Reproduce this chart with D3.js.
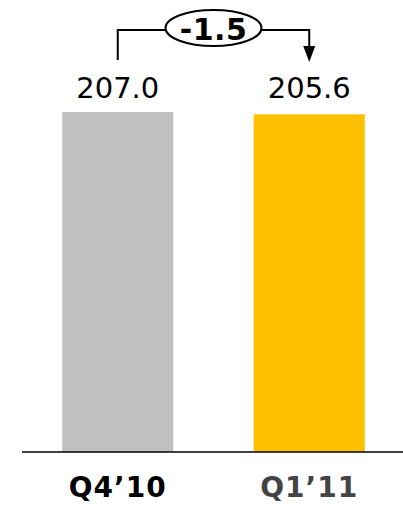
<!DOCTYPE html>
<html>
<head>
<meta charset="utf-8">
<script src="https://cdn.jsdelivr.net/npm/d3@7"></script>
<style>
  html, body { margin: 0; padding: 0; background: #fff; }
  svg { display: block; }
</style>
</head>
<body>
<svg id="chart" width="403" height="508"></svg>
<script>
// Quarterly values
const categories = ["Q4\u201910", "Q1\u201911"];
const values = [207.0, 205.6];
const valueLabels = ["207.0", "205.6"];
const barColors = ["#C0C0C0", "#FFC000"];
const categoryColors = ["#000000", "#444444"];
const deltaLabel = "-1.5";

const svg = d3.select("#chart");
const font = "'DejaVu Sans', Verdana, sans-serif";

const baseline = 452;
const x = d3.scaleBand()
  .domain(categories)
  .range([22, 405])
  .paddingInner(0.42)
  .paddingOuter(0.21);

const y = d3.scaleLinear()
  .domain([0, 207.0])
  .range([baseline, 112]);

// Bars
svg.selectAll("rect.bar")
  .data(categories)
  .join("rect")
  .attr("class", "bar")
  .attr("x", d => x(d))
  .attr("width", x.bandwidth())
  .attr("y", (d, i) => y(values[i]))
  .attr("height", (d, i) => baseline - y(values[i]))
  .attr("fill", (d, i) => barColors[i]);

// Baseline axis
const axis = svg.append("g")
  .attr("transform", `translate(0,${baseline})`)
  .call(d3.axisBottom(x).tickSize(0).tickPadding(0).tickFormat(""));
axis.select(".domain")
  .attr("d", "M22,0H403")
  .attr("stroke", "#000")
  .attr("stroke-width", 1.5);

// Category labels
svg.selectAll("text.cat")
  .data(categories)
  .join("text")
  .attr("class", "cat")
  .attr("x", d => x(d) + x.bandwidth() / 2)
  .attr("y", 497)
  .attr("text-anchor", "middle")
  .attr("font-family", font)
  .attr("font-weight", "bold")
  .attr("font-size", 28)
  .attr("letter-spacing", 1)
  .attr("fill", (d, i) => categoryColors[i])
  .text(d => d);

// Value labels above the bars
const labelY = y(d3.max(values)) - 14;
svg.selectAll("text.val")
  .data(categories)
  .join("text")
  .attr("class", "val")
  .attr("x", d => x(d) + x.bandwidth() / 2)
  .attr("y", labelY)
  .attr("text-anchor", "middle")
  .attr("font-family", font)
  .attr("font-size", 29)
  .attr("fill", "#000")
  .text((d, i) => valueLabels[i]);

// Change bracket between the two bars
const cx0 = x(categories[0]) + x.bandwidth() / 2;
const cx1 = x(categories[1]) + x.bandwidth() / 2;
const lineY = 30;
const mid = (cx0 + cx1) / 2;
const rx = 48, ry = 18;

const bracket = svg.append("g")
  .attr("stroke", "#000")
  .attr("stroke-width", 2)
  .attr("fill", "none");

bracket.append("path")
  .attr("d", `M${cx0},60V${lineY}H${mid - rx}`);
bracket.append("path")
  .attr("d", `M${mid + rx},${lineY}H${cx1}V47`);

svg.append("path")
  .attr("d", `M${cx1 - 6},46L${cx1 + 6},46L${cx1},62Z`)
  .attr("fill", "#000");

svg.append("ellipse")
  .attr("cx", mid)
  .attr("cy", lineY - 2)
  .attr("rx", rx)
  .attr("ry", ry)
  .attr("fill", "#fff")
  .attr("stroke", "#000")
  .attr("stroke-width", 2);

svg.append("text")
  .attr("x", mid)
  .attr("y", lineY + 10)
  .attr("text-anchor", "middle")
  .attr("font-family", font)
  .attr("font-weight", "bold")
  .attr("font-size", 30)
  .attr("letter-spacing", 0.5)
  .attr("fill", "#000")
  .text(deltaLabel);
</script>
</body>
</html>
